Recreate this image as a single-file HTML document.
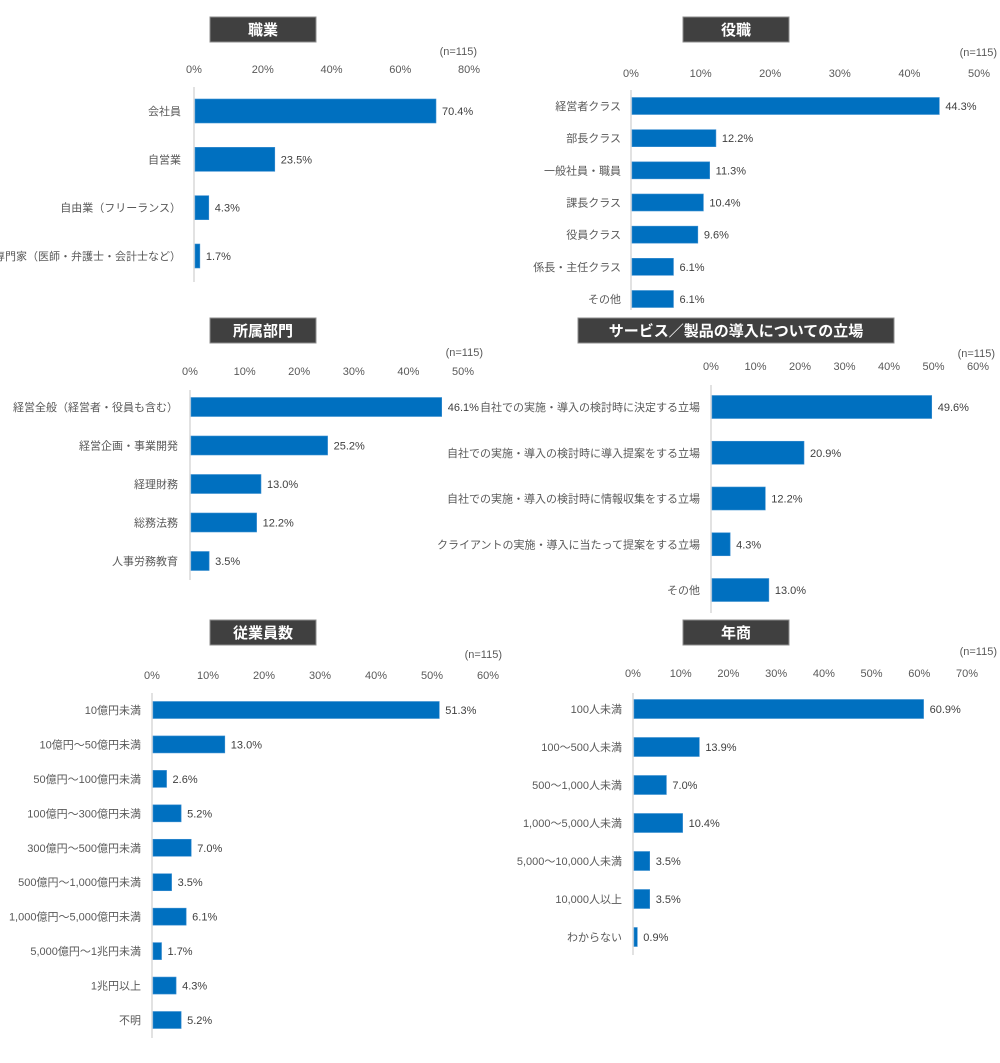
<!DOCTYPE html>
<html><head><meta charset="utf-8">
<style>
html,body{margin:0;padding:0;background:#fff;}
body{width:1000px;height:1058px;position:relative;overflow:hidden;font-family:"Liberation Sans","Noto Sans CJK JP",sans-serif;}
svg text{font-family:"Liberation Sans","Noto Sans CJK JP",sans-serif;}
</style></head>
<body>
<svg id="c" width="1000" height="1058" xmlns="http://www.w3.org/2000/svg"></svg>
<script>
// 職業
const jobCategories = ["会社員","自営業","自由業（フリーランス）","専門家（医師・弁護士・会計士など）"];
const jobValues = [70.4,23.5,4.3,1.7];
const jobTicks = [0,20,40,60,80];
// 役職
const positionCategories = ["経営者クラス","部長クラス","一般社員・職員","課長クラス","役員クラス","係長・主任クラス","その他"];
const positionValues = [44.3,12.2,11.3,10.4,9.6,6.1,6.1];
const positionTicks = [0,10,20,30,40,50];
// 所属部門
const deptCategories = ["経営全般（経営者・役員も含む）","経営企画・事業開発","経理財務","総務法務","人事労務教育"];
const deptValues = [46.1,25.2,13.0,12.2,3.5];
const deptTicks = [0,10,20,30,40,50];
// 立場
const roleCategories = ["自社での実施・導入の検討時に決定する立場","自社での実施・導入の検討時に導入提案をする立場","自社での実施・導入の検討時に情報収集をする立場","クライアントの実施・導入に当たって提案をする立場","その他"];
const roleValues = [49.6,20.9,12.2,4.3,13.0];
const roleTicks = [0,10,20,30,40,50,60];
// 従業員数
const empCategories = ["10億円未満","10億円～50億円未満","50億円～100億円未満","100億円～300億円未満","300億円～500億円未満","500億円～1,000億円未満","1,000億円～5,000億円未満","5,000億円～1兆円未満","1兆円以上","不明"];
const empValues = [51.3,13.0,2.6,5.2,7.0,3.5,6.1,1.7,4.3,5.2];
const empTicks = [0,10,20,30,40,50,60];
// 年商
const salesCategories = ["100人未満","100～500人未満","500～1,000人未満","1,000～5,000人未満","5,000～10,000人未満","10,000人以上","わからない"];
const salesValues = [60.9,13.9,7.0,10.4,3.5,3.5,0.9];
const salesTicks = [0,10,20,30,40,50,60,70];

const NS="http://www.w3.org/2000/svg";
const svg=document.getElementById('c');
function mk(tag,attrs,parent){const e=document.createElementNS(NS,tag);for(const k in attrs)e.setAttribute(k,attrs[k]);(parent||svg).appendChild(e);return e;}

function chart(o){
  const g=mk('g',{});
  
  
  // title
  const tb=mk('rect',{x:o.tx,y:o.ty,width:o.tw,height:25,fill:'#404040',stroke:'#8c8c8c','stroke-width':1},g);
  
  
  const tt=mk('text',{x:o.tx+o.tw/2,y:o.ty+18,'text-anchor':'middle',fill:'#fff','font-size':15,'font-weight':'bold'},g);
  tt.textContent=o.title;
  
  
  const n=mk('text',{x:o.nx,y:o.ny,'text-anchor':'end',fill:'#595959','font-size':11},g);
  n.textContent='(n=115)';
  
  
  const maxT=o.ticks[o.ticks.length-1];
  const xs=v=>o.x0+(o.x1-o.x0)*v/maxT;
  o.ticks.forEach(t=>{
    const e=mk('text',{x:xs(t),y:o.tickY,'text-anchor':'middle',fill:'#595959','font-size':11},g);
    e.textContent=t+'%';
    
    
  });
  const ax=mk('line',{x1:o.x0,x2:o.x0,y1:o.ay0,y2:o.ay1,stroke:'#d9d9d9','stroke-width':1.5},g);
  
  
  const nb=o.cats.length;
  const step=(o.c1-o.c0)/(nb-1);
  o.cats.forEach((c,i)=>{
    const cy=o.c0+step*i;
    const v=o.vals[i];
    const r=mk('rect',{x:o.x0+1,y:cy-o.bh/2,width:Math.max(1,xs(v)-o.x0-1),height:o.bh,fill:'#0070c0',stroke:'#3d8fd1','stroke-width':0.6},g);
    
    
    const l=mk('text',{x:o.lx,y:cy+4,'text-anchor':'end',fill:'#595959','font-size':11},g);
    l.textContent=c;
    
    
    const vl=mk('text',{x:xs(v)+6,y:cy+4,fill:'#404040','font-size':11},g);
    vl.textContent=v.toFixed(1)+'%';
    
    
  });
}

chart({name:'job-chart',title:'職業',tx:210,ty:17,tw:106,nx:477,ny:55,tickY:73,x0:194,x1:469,ticks:jobTicks,ay0:87,ay1:282,c0:111,c1:256,bh:24,lx:181,cats:jobCategories,vals:jobValues});
chart({name:'position-chart',title:'役職',tx:683,ty:17,tw:106,nx:997,ny:56,tickY:77,x0:631,x1:979,ticks:positionTicks,ay0:90,ay1:310,c0:106,c1:299,bh:17,lx:621,cats:positionCategories,vals:positionValues});
chart({name:'department-chart',title:'所属部門',tx:210,ty:318,tw:106,nx:483,ny:356,tickY:375,x0:190,x1:463,ticks:deptTicks,ay0:390,ay1:580,c0:407,c1:561,bh:19,lx:178,cats:deptCategories,vals:deptValues});
chart({name:'role-chart',title:'サービス／製品の導入についての立場',tx:578,ty:318,tw:316,nx:995,ny:357,tickY:370,x0:711,x1:978,ticks:roleTicks,ay0:385,ay1:613,c0:407,c1:590,bh:23,lx:700,cats:roleCategories,vals:roleValues});
chart({name:'employees-chart',title:'従業員数',tx:210,ty:620,tw:106,nx:502,ny:658,tickY:679,x0:152,x1:488,ticks:empTicks,ay0:693,ay1:1038,c0:710,c1:1020,bh:17,lx:141,cats:empCategories,vals:empValues});
chart({name:'sales-chart',title:'年商',tx:683,ty:620,tw:106,nx:997,ny:655,tickY:677,x0:633,x1:967,ticks:salesTicks,ay0:693,ay1:955,c0:709,c1:937,bh:19,lx:622,cats:salesCategories,vals:salesValues});
</script>
</body></html>
